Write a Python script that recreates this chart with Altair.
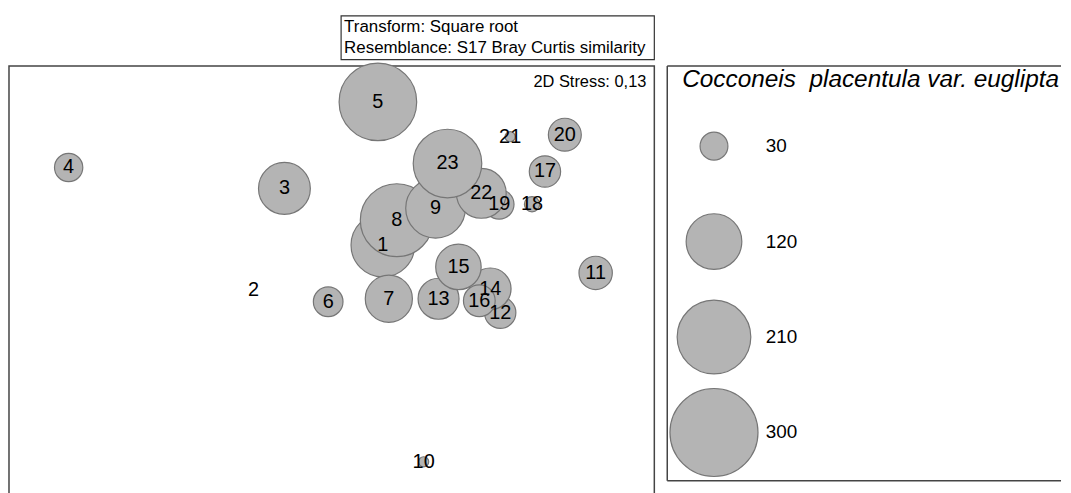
import altair as alt
import pandas as pd

# MDS ordination coordinates of the 23 samples and bubble values
samples = [str(i) for i in range(1, 24)]
mds_x = [-0.08, -0.73, -0.575, -1.66, -0.105, -0.355, -0.05, -0.01, 0.185, 0.125,
         0.99, 0.51, 0.20, 0.46, 0.30, 0.405, 0.735, 0.67, 0.505, 0.835,
         0.56, 0.415, 0.245]
mds_y = [0.28, 0.055, 0.565, 0.67, 1.0, -0.005, 0.01, 0.405, 0.465, -0.81,
         0.14, -0.06, 0.01, 0.06, 0.17, 0.0, 0.65, 0.485, 0.485, 0.835,
         0.825, 0.54, 0.69]
abundance = [157, 0, 104, 31, 233, 34, 86, 206, 138, 4,
             43, 38, 65, 67, 80, 39, 38, 9, 34, 42,
             4, 96, 182]

legend_values = [30, 120, 210, 300]
legend_title = "Cocconeis\u00a0 placentula var. euglipta"
info_text_str = "Transform: Square root\nResemblance: S17 Bray Curtis similarity"
stress_text = "2D Stress: 0,13"

FONT = "Liberation Sans"
FILL = "#b4b4b4"
EDGE = "#767676"
LINE = "#444"

df = pd.DataFrame({"sample": samples, "x": mds_x, "y": mds_y, "value": abundance})
df["order"] = range(len(df))

size_scale = alt.Scale(domain=[0, 300], range=[0, 7840], zero=True)
xs = alt.Scale(domain=[-1.96, 1.285], nice=False, zero=False)
ys = alt.Scale(domain=[-1.02, 1.18], nice=False, zero=False)

base = alt.Chart(df)

bubbles = base.mark_circle(opacity=1, fill=FILL, stroke=EDGE, strokeWidth=1.2).encode(
    x=alt.X("x:Q", scale=xs, axis=None),
    y=alt.Y("y:Q", scale=ys, axis=None),
    size=alt.Size("value:Q", scale=size_scale, legend=None),
    order=alt.Order("order:Q"),
)

labels = base.mark_text(font=FONT, fontSize=20, color="black", baseline="middle",
                        align="center").encode(
    x=alt.X("x:Q", scale=xs, axis=None),
    y=alt.Y("y:Q", scale=ys, axis=None),
    text="sample:N",
)

one = pd.DataFrame({"a": [0]})
info_box = alt.Chart(one).mark_rect(
    fill="white", stroke="#333", strokeWidth=1.2
).encode(x=alt.value(334), x2=alt.value(649), y=alt.value(-50.5), y2=alt.value(-6.5))
info_text = alt.Chart(pd.DataFrame({"t": [info_text_str]})).mark_text(
    font=FONT, fontSize=17, align="left", baseline="middle", color="black",
    lineBreak="\n", lineHeight=21
).encode(x=alt.value(337), y=alt.value(-39.5), text="t:N")
stress = alt.Chart(pd.DataFrame({"t": [stress_text]})).mark_text(
    font=FONT, fontSize=16.5, align="right", baseline="middle", color="black"
).encode(x=alt.value(641), y=alt.value(16), text="t:N")

main = alt.layer(bubbles, labels, info_box, info_text, stress).properties(
    width=649, height=440, view=alt.ViewBackground(stroke=LINE, strokeWidth=1.5)
)

# legend panel
LW, LH = 396, 417
leg_df = pd.DataFrame({"value": legend_values, "row": list(range(len(legend_values))),
                       "label": [str(v) for v in legend_values]})
leg_y = alt.Scale(domain=[-0.8385, 3.5052], reverse=True, nice=False, zero=False)
leg_circles = alt.Chart(leg_df).mark_circle(opacity=1, fill=FILL, stroke=EDGE,
                                            strokeWidth=1.2).encode(
    x=alt.value(47),
    y=alt.Y("row:Q", scale=leg_y, axis=None),
    size=alt.Size("value:Q", scale=size_scale, legend=None),
)
leg_labels = alt.Chart(leg_df).mark_text(font=FONT, fontSize=19, align="left",
                                         baseline="middle", color="black").encode(
    x=alt.value(99),
    y=alt.Y("row:Q", scale=leg_y, axis=None),
    text="label:N",
)
leg_title = alt.Chart(pd.DataFrame({"t": [legend_title]})).mark_text(
    font=FONT, fontSize=24.5, fontStyle="italic", align="left", baseline="middle",
    color="black"
).encode(x=alt.value(15), y=alt.value(14.5), text="t:N")
spacer = alt.Chart(one).mark_rect(opacity=0).encode(
    x=alt.value(0), x2=alt.value(1), y=alt.value(-51), y2=alt.value(0)
)
frame_left = alt.Chart(one).mark_rule(color=LINE, strokeWidth=1.5).encode(
    x=alt.value(0), y=alt.value(0), y2=alt.value(LH))
frame_top = alt.Chart(one).mark_rule(color=LINE, strokeWidth=1.5).encode(
    x=alt.value(0), x2=alt.value(LW), y=alt.value(0))
frame_bottom = alt.Chart(one).mark_rule(color=LINE, strokeWidth=1.5).encode(
    x=alt.value(0), x2=alt.value(LW), y=alt.value(LH))

legend_panel = alt.layer(spacer, frame_left, frame_top, frame_bottom,
                         leg_circles, leg_labels, leg_title).properties(
    width=LW, height=LH, view=alt.ViewBackground(stroke="transparent")
)

chart = alt.hconcat(main, legend_panel, spacing=9).resolve_scale(
    size="independent", y="independent", x="independent"
).properties(
    padding={"left": 0, "top": 5, "right": 0, "bottom": 0}
).configure_view(strokeWidth=0).configure(background="white")

chart.save("out.html", embed_options={"renderer": "svg", "actions": False})
